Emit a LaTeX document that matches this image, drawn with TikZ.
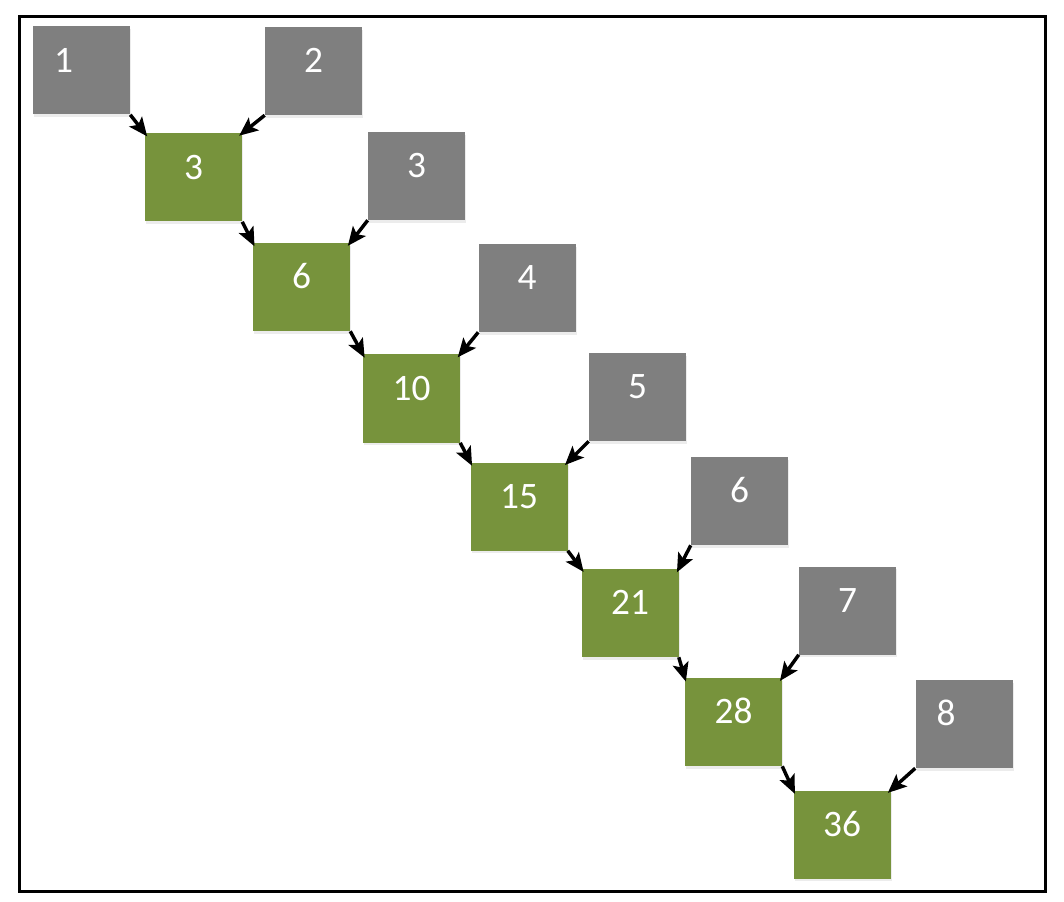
\documentclass[tikz,border=0pt]{standalone}
\usepackage{fontspec}
\setmainfont{Carlito}
\usetikzlibrary{shadows,arrows.meta}
\definecolor{numgray}{HTML}{7F7F7F}
\definecolor{sumgreen}{HTML}{77933C}
\tikzstyle{numbox} = [rectangle, minimum width=72.75pt, minimum height=66pt, inner sep=0pt, text=white, font=\fontsize{28}{34}\selectfont, text height=14pt, text depth=11.4pt, drop shadow={opacity=0.15, shadow xshift=0.8pt, shadow yshift=-2.2pt}]
\tikzstyle{centernum} = []
\tikzstyle{leftnum} = [text width=41.25pt, align=left, inner xsep=15.75pt]
\tikzstyle{arrowdecorate} = [-{Stealth[length=14pt, width=12pt, inset=3pt]}, line width=2.6pt, shorten >=-3pt]
\tikzstyle{frame} = [draw, line width=2.25pt]
\begin{document}
\begin{tikzpicture}[x=0.75pt, y=-0.75pt]
      \useasboundingbox (0,0) rectangle (1064,902);
      \draw[frame] (19.5,16.5) rectangle (1045.5,891.5);
      %nodes
      \foreach \nodename/\x/\y/\val/\fillcol/\place in {
        a1/81.5/70.5/1/numgray/leftnum,
        a2/313.5/71/2/numgray/centernum,
        a3/416.5/176/3/numgray/centernum,
        a4/527/288/4/numgray/centernum,
        a5/637.5/397/5/numgray/centernum,
        a6/739.5/501/6/numgray/centernum,
        a7/847.5/610.5/7/numgray/centernum,
        a8/964/724/8/numgray/leftnum,
        s1/193.5/177.5/3/sumgreen/centernum,
        s2/301.5/287/6/sumgreen/centernum,
        s3/411.5/398.5/10/sumgreen/centernum,
        s4/519/506.5/15/sumgreen/centernum,
        s5/630/613/21/sumgreen/centernum,
        s6/733.5/722/28/sumgreen/centernum,
        s7/842/834.5/36/sumgreen/centernum}
      {
        \node[numbox, fill=\fillcol, \place] (\nodename) at (\x,\y) {\val};
      };
      %edges
      \path
      \foreach \startnode/\from/\endnode/\to in {
        a1/south east/s1/north west, a2/south west/s1/north east,
        s1/south east/s2/north west, a3/south west/s2/north east,
        s2/south east/s3/north west, a4/south west/s3/north east,
        s3/south east/s4/north west, a5/south west/s4/north east,
        s4/south east/s5/north west, a6/south west/s5/north east,
        s5/south east/s6/north west, a7/south west/s6/north east,
        s6/south east/s7/north west, a8/south west/s7/north east}
      {
        (\startnode.\from) edge[arrowdecorate] (\endnode.\to)
      };
\end{tikzpicture}
\end{document}
